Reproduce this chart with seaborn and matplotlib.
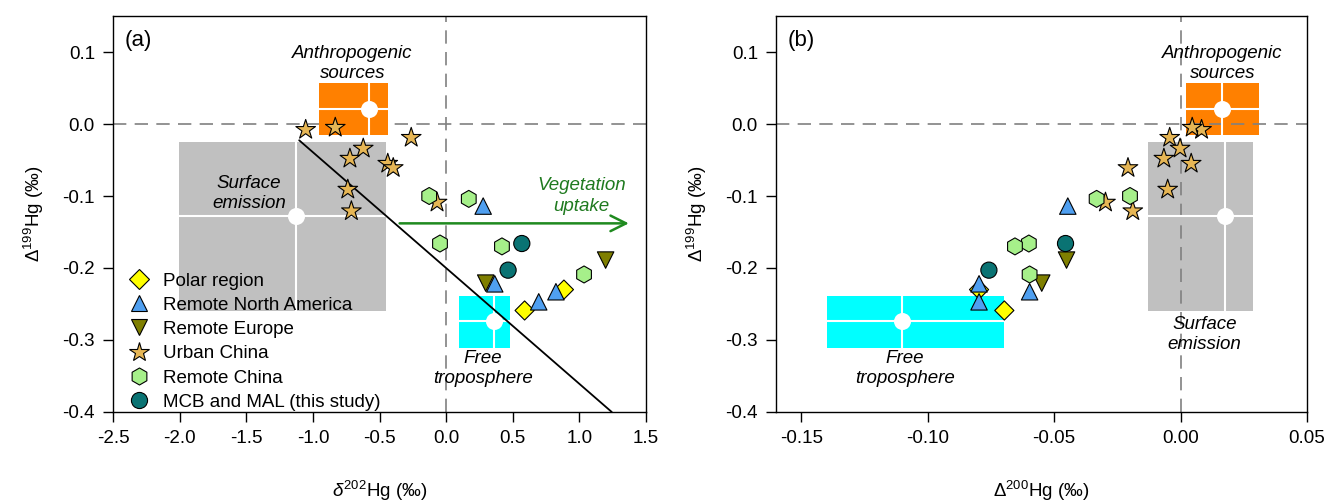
import numpy as np
import pandas as pd
import matplotlib
matplotlib.use("Agg")
import matplotlib.pyplot as plt
from matplotlib.patches import Rectangle
import seaborn as sns

# ---------------- data ----------------
groups = ["Polar region", "Remote North America", "Remote Europe",
          "Urban China", "Remote China", "MCB and MAL (this study)"]

polar_d202 = [0.589, 0.884]
polar_D199 = [-0.259, -0.230]
polar_D200 = [-0.0697, -0.0797]

rna_d202 = [0.278, 0.365, 0.695, 0.824]
rna_D199 = [-0.114, -0.222, -0.247, -0.233]
rna_D200 = [-0.0446, -0.0797, -0.0797, -0.0597]

re_d202 = [0.297, 1.197]
re_D199 = [-0.221, -0.189]
re_D200 = [-0.0549, -0.0451]

urban_d202 = [-1.054, -0.832, -0.262, -0.622, -0.722, -0.438, -0.397, -0.738, -0.711, -0.068]
urban_D199 = [-0.008, -0.005, -0.019, -0.034, -0.048, -0.055, -0.061, -0.091, -0.121, -0.109]
urban_D200 = [0.0083, 0.0046, -0.0043, -0.0002, -0.0066, 0.0042, -0.0208, -0.0051, -0.0189, -0.0297]

rchina_d202 = [-0.127, 0.170, -0.046, 0.419, 1.035]
rchina_D199 = [-0.100, -0.104, -0.166, -0.170, -0.209]
rchina_D200 = [-0.020, -0.0332, -0.060, -0.0655, -0.0597]

mcb_d202 = [0.568, 0.465]
mcb_D199 = [-0.166, -0.203]
mcb_D200 = [-0.0455, -0.0758]

# source end-member boxes
src_names = ["Anthropogenic\nsources", "Surface\nemission", "Free\ntroposphere"]
src_d202_lo = [-0.954, -2.008, 0.095]
src_d202_hi = [-0.438, -0.454, 0.476]
src_d202_c = [-0.581, -1.130, 0.357]
src_D200_lo = [0.0023, -0.0128, -0.140]
src_D200_hi = [0.0311, 0.0285, -0.070]
src_D200_c = [0.0165, 0.0177, -0.110]
src_D199_lo = [-0.0147, -0.260, -0.311]
src_D199_hi = [0.0567, -0.025, -0.239]
src_D199_c = [0.0207, -0.1276, -0.274]

# reference line in panel (a) and vegetation uptake arrow
line_d202 = [-1.103, 1.243]
line_D199 = [-0.0226, -0.400]
veg_d202 = [-0.37, 1.392]
veg_D199 = -0.138

xticks_a = [-2.5, -2.0, -1.5, -1.0, -0.5, 0.0, 0.5, 1.0, 1.5]
xticks_b = [-0.15, -0.10, -0.05, 0.00, 0.05]
yticks = [0.1, 0.0, -0.1, -0.2, -0.3, -0.4]

# ---------------- style ----------------
sns.set_theme(style="white")
plt.rcParams["font.family"] = ["Liberation Sans", "DejaVu Sans"]
plt.rcParams["axes.unicode_minus"] = False
plt.rcParams["mathtext.fontset"] = "custom"
plt.rcParams["mathtext.rm"] = "Liberation Sans"
plt.rcParams["mathtext.it"] = "Liberation Sans:italic"
for k in ["text.color", "axes.labelcolor", "xtick.color", "ytick.color"]:
    plt.rcParams[k] = "black"

FS = 13.5
palette = {"Polar region": "#ffff00", "Remote North America": "#4f9ff0",
           "Remote Europe": "#7f7f00", "Urban China": "#e6b655",
           "Remote China": "#a6f08a", "MCB and MAL (this study)": "#0a7373"}
markers = {"Polar region": "D", "Remote North America": "^",
           "Remote Europe": "v", "Urban China": "*",
           "Remote China": "h", "MCB and MAL (this study)": "o"}
sizes = {"Polar region": 95, "Remote North America": 140,
         "Remote Europe": 140, "Urban China": 220,
         "Remote China": 150, "MCB and MAL (this study)": 135}
src_colors = ["#ff8000", "#c0c0c0", "#00ffff"]

rows = []
for g, xs, ys, zs in [
    ("Polar region", polar_d202, polar_D199, polar_D200),
    ("Remote North America", rna_d202, rna_D199, rna_D200),
    ("Remote Europe", re_d202, re_D199, re_D200),
    ("Urban China", urban_d202, urban_D199, urban_D200),
    ("Remote China", rchina_d202, rchina_D199, rchina_D200),
    ("MCB and MAL (this study)", mcb_d202, mcb_D199, mcb_D200),
]:
    for a, b, c in zip(xs, ys, zs):
        rows.append({"group": g, "d202": a, "D199": b, "D200": c})
df = pd.DataFrame(rows)

W, H = 1327, 503
fig = plt.figure(figsize=(W / 100, H / 100), dpi=100)
axA = fig.add_axes([113 / W, (H - 412) / H, 533 / W, 396 / H])
axB = fig.add_axes([776 / W, (H - 412) / H, 531 / W, 396 / H])

def draw_sources(ax, lo, hi, c, line_z):
    for i in range(3):
        ax.add_patch(Rectangle((lo[i], src_D199_lo[i]), hi[i] - lo[i],
                               src_D199_hi[i] - src_D199_lo[i],
                               facecolor=src_colors[i], edgecolor="none", zorder=1))
        ax.plot([c[i], c[i]], [src_D199_lo[i], src_D199_hi[i]], color="white", lw=1.5, zorder=1.2)
        ax.plot([lo[i], hi[i]], [src_D199_c[i], src_D199_c[i]], color="white", lw=1.5, zorder=1.2)
        ax.scatter([c[i]], [src_D199_c[i]], s=150, color="white", zorder=1.3, linewidths=0)
    ax.axhline(0, color="#808080", lw=1.2, ls=(0, (8, 5)), zorder=line_z)
    ax.axvline(0, color="#808080", lw=1.2, ls=(0, (8, 5)), zorder=line_z)

draw_sources(axA, src_d202_lo, src_d202_hi, src_d202_c, 0.5)
draw_sources(axB, src_D200_lo, src_D200_hi, src_D200_c, 1.1)

axA.plot(line_d202, line_D199, color="black", lw=1.3, zorder=2)
axA.annotate("", xy=(veg_d202[1], veg_D199), xytext=(veg_d202[0], veg_D199),
             arrowprops=dict(arrowstyle="->", color="#1f8a1f", lw=1.8,
                             mutation_scale=28), zorder=2)
axA.text(1.014, -0.100, "Vegetation\nuptake", color="#1f7a1f", style="italic",
         fontsize=FS, ha="center", va="center", linespacing=1.25)

for ax, x in [(axA, "d202"), (axB, "D200")]:
    sns.scatterplot(data=df, x=x, y="D199", hue="group", style="group", size="group",
                    hue_order=groups, style_order=groups, size_order=groups,
                    palette=palette, markers=markers, sizes=sizes,
                    edgecolor="black", linewidth=0.8, ax=ax, zorder=3,
                    legend=(ax is axA))

# text labels
kw = dict(style="italic", fontsize=FS, ha="center", va="center", linespacing=1.25, zorder=4)
axA.text(-0.703, 0.084, "Anthropogenic\nsources", **kw)
axA.text(-1.478, -0.097, "Surface\nemission", **kw)
axA.text(0.278, -0.340, "Free\ntroposphere", **kw)
axB.text(0.0165, 0.084, "Anthropogenic\nsources", **kw)
axB.text(0.0095, -0.292, "Surface\nemission", **kw)
axB.text(-0.109, -0.340, "Free\ntroposphere", **kw)

axA.set_xlim(-2.5, 1.5)
axB.set_xlim(-0.16, 0.05)
for ax, lab, xt, fmt in [(axA, "(a)", xticks_a, "{:.1f}"), (axB, "(b)", xticks_b, "{:.2f}")]:
    ax.set_ylim(-0.4, 0.15)
    ax.set_xticks(xt)
    ax.set_xticklabels([fmt.format(v) for v in xt])
    ax.set_yticks(yticks)
    ax.set_yticklabels(["{:.1f}".format(v) for v in yticks])
    ax.tick_params(axis="both", which="both", direction="out", length=7, width=1,
                   color="black", labelcolor="black", labelsize=FS, bottom=True, left=True,
                   top=False, right=False, pad=6)
    for sp in ax.spines.values():
        sp.set_color("black")
        sp.set_linewidth(1.0)
        sp.set_visible(True)
    ax.text(0.022, 0.965, lab, transform=ax.transAxes, fontsize=16, va="top", ha="left")
    ax.set_ylabel(r"$\Delta^{199}$Hg (‰)", fontsize=FS, labelpad=12)

axA.set_xlabel(r"$\delta^{202}$Hg (‰)", fontsize=FS, labelpad=23)
axB.set_xlabel(r"$\Delta^{200}$Hg (‰)", fontsize=FS, labelpad=23)

leg = axA.legend(loc="lower left", bbox_to_anchor=(0.0, -0.03), frameon=False,
                 fontsize=FS, handletextpad=0.55, labelspacing=0.38,
                 borderaxespad=0.3, handlelength=1.4)
for h in leg.legend_handles:
    try:
        h.set_markeredgecolor("black")
    except AttributeError:
        h.set_edgecolor("black")
for t in leg.get_texts():
    t.set_color("black")

fig.savefig("out.png", dpi=100)
